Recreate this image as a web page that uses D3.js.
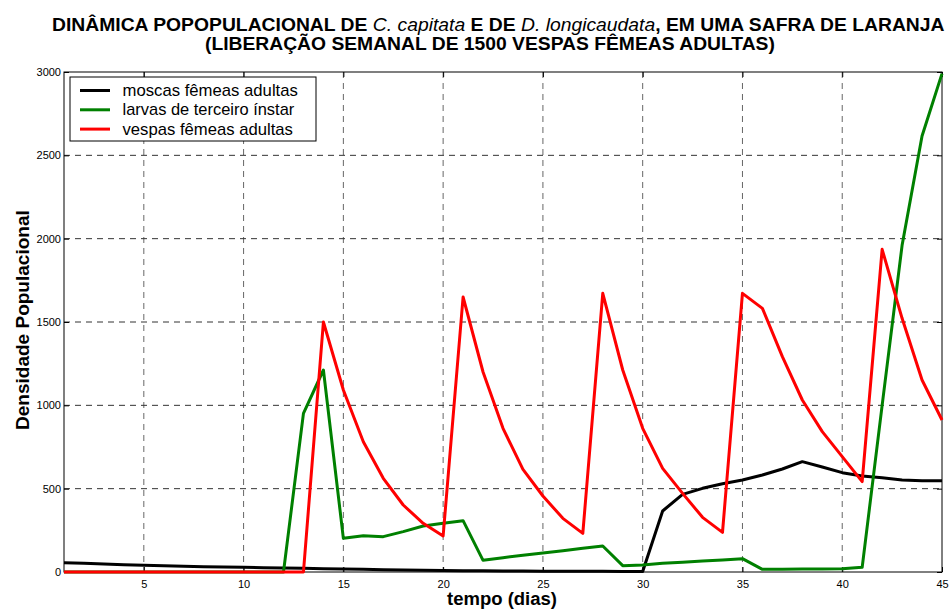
<!DOCTYPE html>
<html><head><meta charset="utf-8">
<script src="https://cdn.jsdelivr.net/npm/d3@7"></script>
<style>body{margin:0;background:#fff;}svg{display:block;font-family:"Liberation Sans",Arial,sans-serif;}</style>
</head><body>
<svg id="chart" width="949" height="610"></svg>
<script>
const days = [1,2,3,4,5,6,7,8,9,10,11,12,13,14,15,16,17,18,19,20,21,22,23,24,25,26,27,28,29,30,31,32,33,34,35,36,37,38,39,40,41,42,43,44,45];
const moscas = [56,52,48,44,40,37,34,32,30,28,26,24,22,20,18,16,14,12,10,9,8,7,6,6,5,5,4,4,3,3,366,466,502,530,552,582,618,662,630,596,576,566,552,548,548];
const larvas = [0,0,0,0,0,0,0,0,0,0,0,0,952,1212,202,218,212,242,276,292,308,70,86,100,114,128,142,156,38,42,52,58,66,72,80,16,16,18,18,20,28,1000,1960,2616,2990];
const vespas = [0,0,0,0,0,0,0,0,0,0,0,0,0,1500,1092,782,562,402,292,216,1650,1200,862,616,456,322,232,1672,1212,862,622,472,328,238,1672,1582,1292,1032,842,692,542,1936,1522,1152,912];
const seriesNames = ["moscas fêmeas adultas","larvas de terceiro ínstar","vespas fêmeas adultas"];
const seriesColors = ["#000000","#008000","#ff0000"];
const xTicks = [5,10,15,20,25,30,35,40,45];
const yTicks = [0,500,1000,1500,2000,2500,3000];

const svg = d3.select("#chart");
const L=64, R=942, T=72, B=572;
const x = d3.scaleLinear().domain([1,45]).range([L,R]);
const y = d3.scaleLinear().domain([0,3000]).range([B,T]);

// fit a horizontal text group between x0 and x1
function fitH(g, x0, x1, baseY){
  const bb = g.node().getBBox();
  const s = (x1-x0)/bb.width;
  g.attr("transform",`translate(${x0},${baseY}) scale(${s},1) translate(${-bb.x},0)`);
}

// grid
const g = svg.append("g");
g.selectAll(".vg").data(xTicks.filter(d=>d<45)).join("line")
  .attr("x1",d=>x(d)).attr("x2",d=>x(d)).attr("y1",T).attr("y2",B)
  .attr("stroke","#666").attr("stroke-width",1).attr("stroke-dasharray","6,5");
g.selectAll(".hg").data(yTicks.filter(d=>d>0&&d<3000)).join("line")
  .attr("x1",L).attr("x2",R).attr("y1",d=>y(d)).attr("y2",d=>y(d))
  .attr("stroke","#333").attr("stroke-width",1).attr("stroke-dasharray","6,5");

// axes
const xAxis = d3.axisBottom(x).tickValues(xTicks).tickSize(-5).tickPadding(8).tickFormat(d3.format("d"));
const yAxis = d3.axisLeft(y).tickValues(yTicks).tickSize(-5).tickPadding(3).tickFormat(d3.format("d"));
const gx = svg.append("g").attr("transform",`translate(0,${B})`).call(xAxis);
const gy = svg.append("g").attr("transform",`translate(${L},0)`).call(yAxis);
[gx,gy].forEach(a=>{a.select(".domain").remove();a.selectAll("text").attr("font-size",11).attr("font-family","Liberation Sans, Arial, sans-serif").attr("fill","#000");a.selectAll("line").attr("stroke","#000");});
const gxt = svg.append("g").attr("transform",`translate(0,${T})`).call(d3.axisTop(x).tickValues(xTicks).tickSize(-5).tickFormat(""));
const gyr = svg.append("g").attr("transform",`translate(${R},0)`).call(d3.axisRight(y).tickValues(yTicks).tickSize(-5).tickFormat(""));
[gxt,gyr].forEach(a=>{a.select(".domain").remove();a.selectAll("line").attr("stroke","#000");});
svg.append("rect").attr("x",L).attr("y",T).attr("width",R-L).attr("height",B-T).attr("fill","none").attr("stroke","#000").attr("stroke-width",1);

// lines
const line = d3.line().x((d,i)=>x(days[i])).y(d=>y(d));
[moscas,larvas,vespas].forEach((s,i)=>{
  svg.append("path").datum(s).attr("d",line).attr("fill","none")
    .attr("stroke",seriesColors[i]).attr("stroke-width",3).attr("stroke-linejoin","round");
});

// legend
const lg = svg.append("g");
lg.append("rect").attr("x",70).attr("y",77).attr("width",246).attr("height",64).attr("fill","#fff").attr("stroke","#000").attr("stroke-width",1);
const legendEnds = [298,295,293];
seriesNames.forEach((n,i)=>{
  const yy = 90.5 + i*19.3;
  lg.append("line").attr("x1",80).attr("x2",110).attr("y1",yy).attr("y2",yy).attr("stroke",seriesColors[i]).attr("stroke-width",3);
  const tg = lg.append("g");
  tg.append("text").attr("x",0).attr("y",0).attr("font-size",16).text(n);
  fitH(tg, 122.5, legendEnds[i], yy+5.5);
});

// titles
const tg1 = svg.append("g");
const t1 = tg1.append("text").attr("x",0).attr("y",0).attr("font-size",17.7).attr("font-weight","bold");
t1.append("tspan").text("DINÂMICA POPOPULACIONAL DE ");
t1.append("tspan").attr("font-style","italic").attr("font-weight","normal").text("C. capitata");
t1.append("tspan").text(" E DE ");
t1.append("tspan").attr("font-style","italic").attr("font-weight","normal").text("D. longicaudata");
t1.append("tspan").text(", EM UMA SAFRA DE LARANJA");
fitH(tg1, 52, 945, 31);
const tg2 = svg.append("g");
tg2.append("text").attr("x",0).attr("y",0).attr("font-size",17.7).attr("font-weight","bold")
  .text("(LIBERAÇÃO SEMANAL DE 1500 VESPAS FÊMEAS ADULTAS)");
fitH(tg2, 205, 775, 49.5);

const xg = svg.append("g");
xg.append("text").attr("x",0).attr("y",0).attr("font-size",18).attr("font-weight","bold").text("tempo (dias)");
fitH(xg, 447, 557, 605);

const yg = svg.append("g");
yg.append("text").attr("x",0).attr("y",0).attr("font-size",19).attr("font-weight","bold").text("Densidade Populacional");
const ybb = yg.node().getBBox();
const ys = 220/ybb.width;
yg.attr("transform",`translate(29,430) rotate(-90) scale(${ys},1) translate(${-ybb.x},0)`);
</script>
</body></html>
